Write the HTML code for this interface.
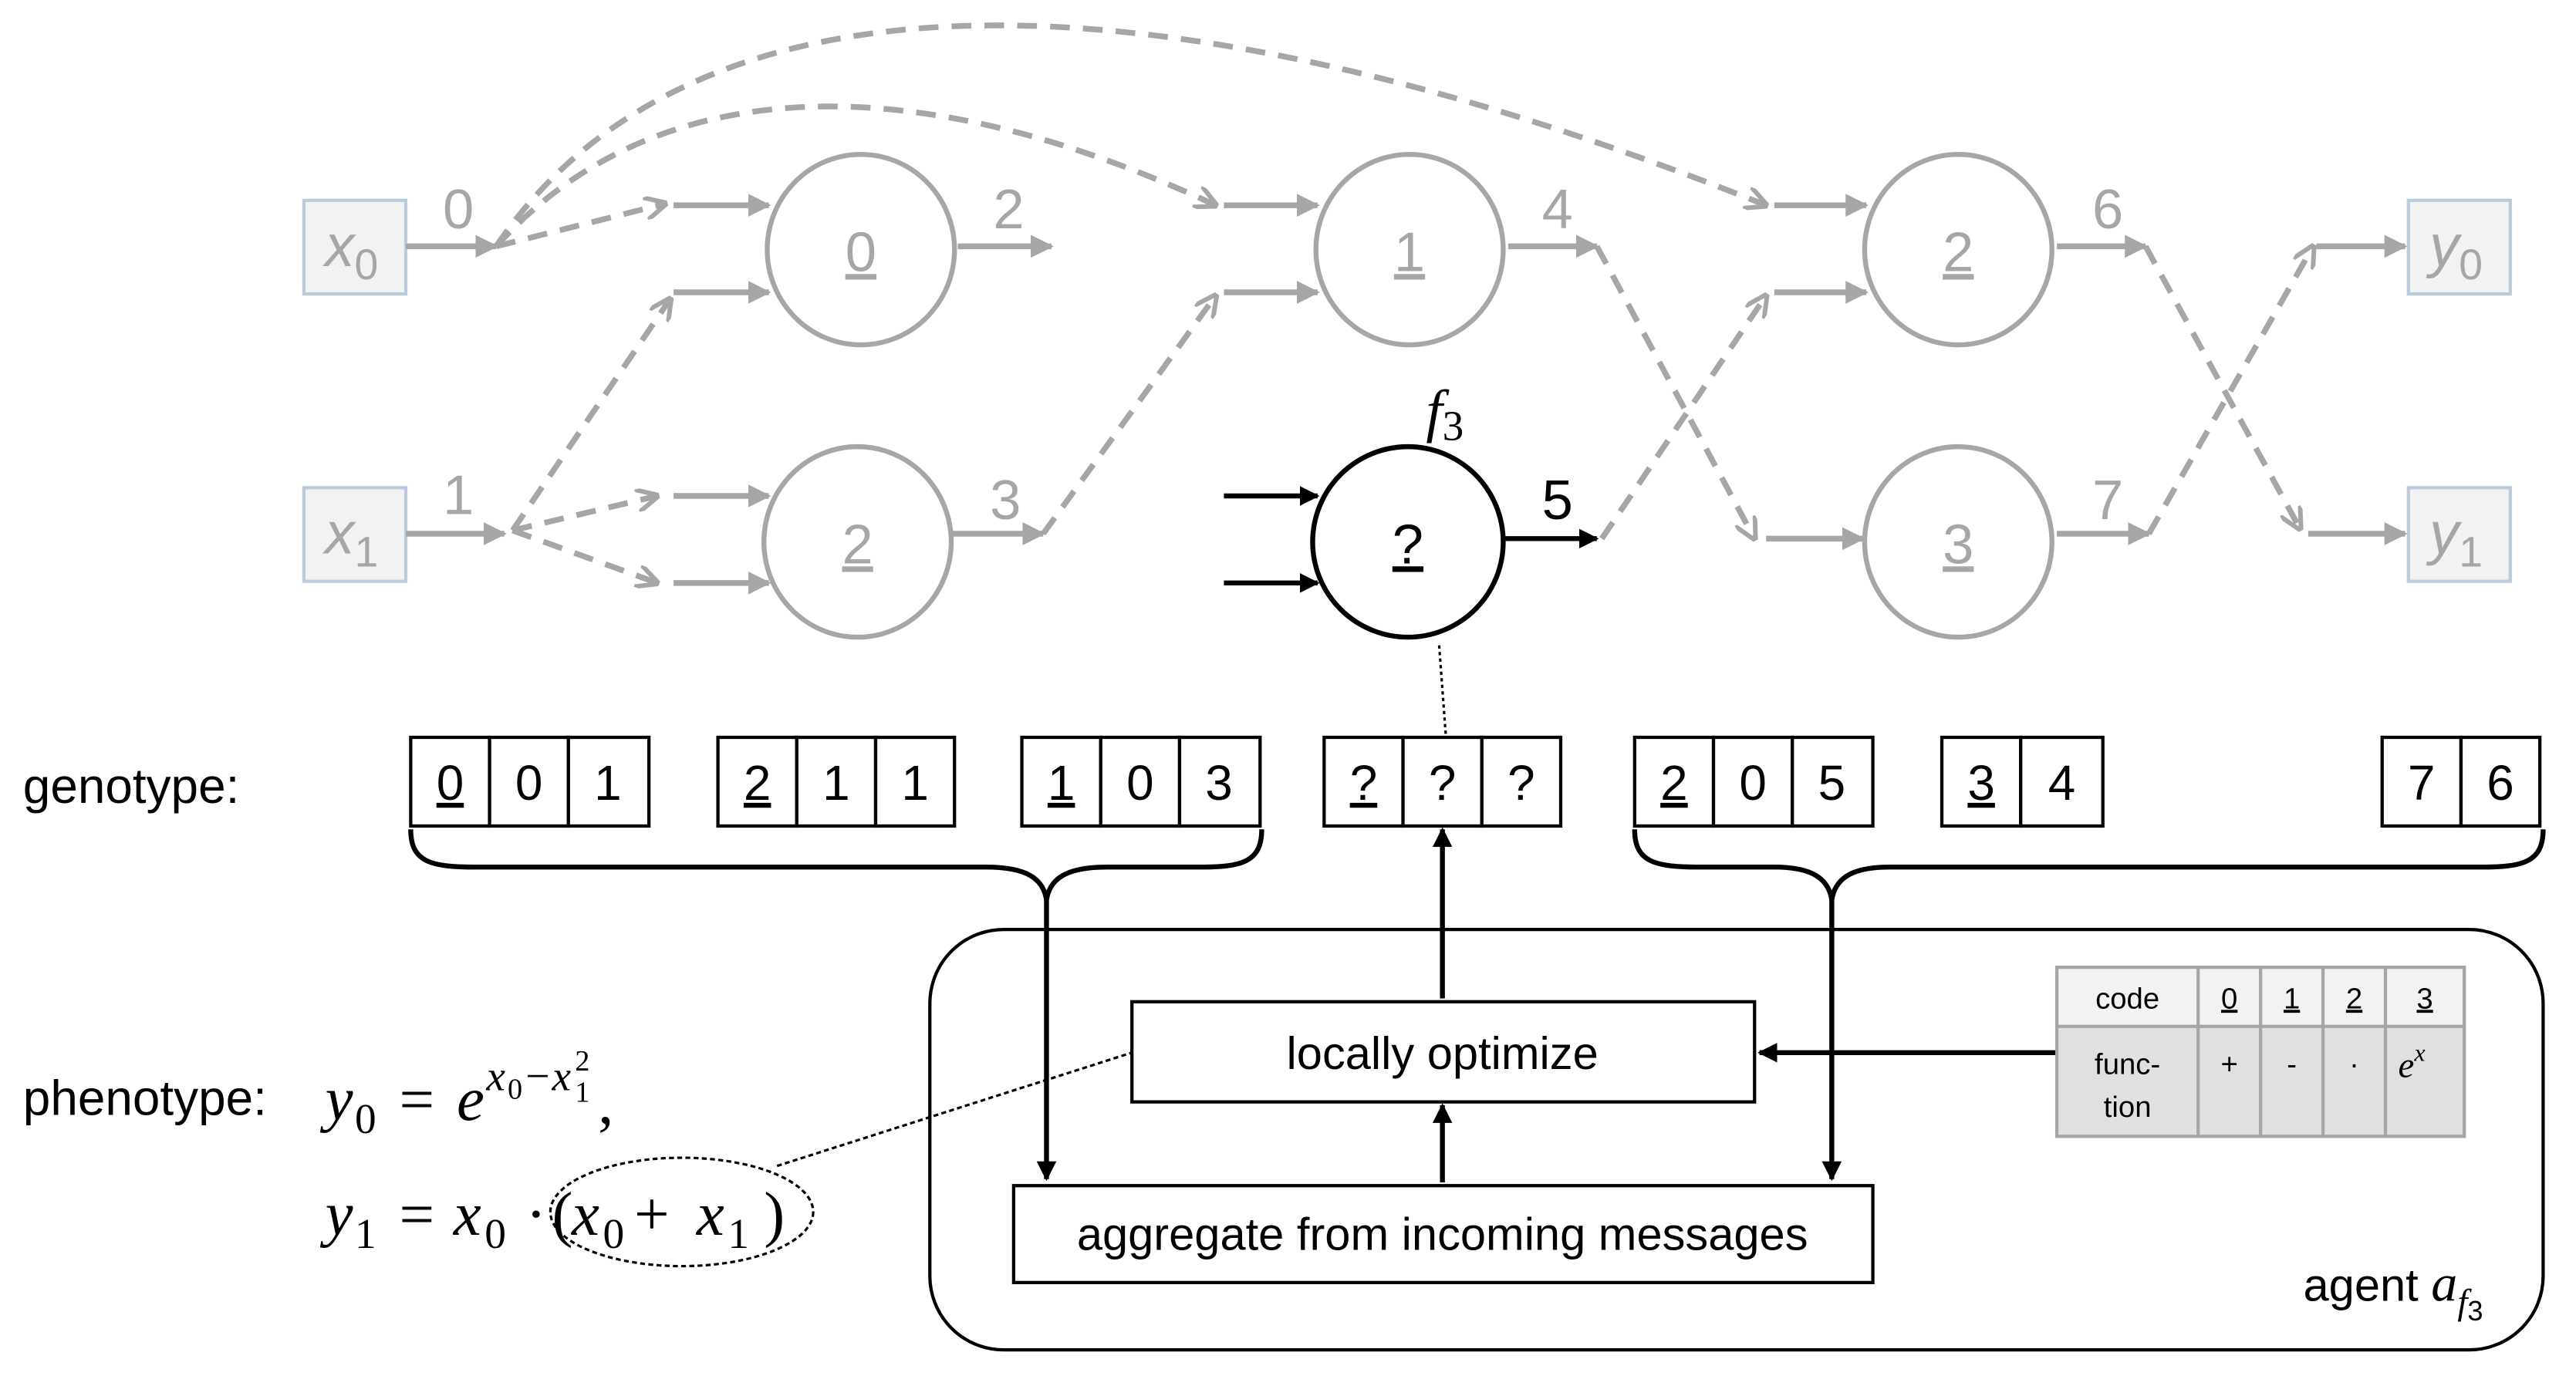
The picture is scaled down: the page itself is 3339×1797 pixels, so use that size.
<!DOCTYPE html>
<html><head><meta charset="utf-8"><style>
html,body{margin:0;padding:0;background:#fff;width:3339px;height:1797px;overflow:hidden}
svg{display:block}
text{font-family:"Liberation Sans",sans-serif}
.m{font-family:"Liberation Serif",serif;font-style:italic}
.n{font-family:"Liberation Serif",serif}
</style></head><body>
<svg width="3339" height="1797" viewBox="0 0 1568 844" preserveAspectRatio="none" xmlns="http://www.w3.org/2000/svg">
<defs>
<marker id="ag" viewBox="0 0 10 10" refX="9" refY="5" markerWidth="4" markerHeight="4" orient="auto"><path d="M0,0L10,5L0,10z" fill="#a6a6a6"/></marker>
<marker id="og" viewBox="0 0 10 10" refX="9" refY="5" markerWidth="4" markerHeight="4" orient="auto"><path d="M0,0L10,5L0,10" fill="none" stroke="#a6a6a6" stroke-width="2"/></marker>
<marker id="ab" viewBox="0 0 10 10" refX="9" refY="5" markerWidth="4" markerHeight="4" orient="auto"><path d="M0,0L10,5L0,10z" fill="#000"/></marker>
</defs>
<g fill="#f2f2f2" stroke="#bccbdc" stroke-width="2">
<rect x="185" y="122" width="62" height="57"/><rect x="185" y="297" width="62" height="57"/>
<rect x="1466" y="122" width="62" height="57"/><rect x="1466" y="297" width="62" height="57"/>
</g>
<g class="m" fill="#a6a6a6" font-size="36" text-anchor="middle">
<text x="214" y="162">x<tspan font-size="26" font-style="normal" dy="8">0</tspan></text>
<text x="214" y="337">x<tspan font-size="26" font-style="normal" dy="8">1</tspan></text>
<text x="1495" y="162">y<tspan font-size="26" font-style="normal" dy="8">0</tspan></text>
<text x="1495" y="337">y<tspan font-size="26" font-style="normal" dy="8">1</tspan></text>
</g>
<g fill="none" stroke="#a6a6a6" stroke-width="3">
<ellipse cx="524" cy="152" rx="57" ry="58"/><ellipse cx="522" cy="330" rx="57" ry="58"/>
<ellipse cx="858" cy="152" rx="57" ry="58"/><ellipse cx="1192" cy="152" rx="57" ry="58"/>
<ellipse cx="1192" cy="330" rx="57" ry="58"/>
</g>
<ellipse cx="857" cy="330" rx="58" ry="58" fill="none" stroke="#000" stroke-width="3"/>
<g font-size="34" fill="#a6a6a6" text-anchor="middle">
<text x="524" y="165" text-decoration="underline">0</text><text x="522" y="343" text-decoration="underline">2</text>
<text x="858" y="165" text-decoration="underline">1</text><text x="1192" y="165" text-decoration="underline">2</text>
<text x="1192" y="343" text-decoration="underline">3</text>
<text x="279" y="139">0</text><text x="614" y="139">2</text><text x="279" y="313">1</text><text x="612" y="316">3</text>
<text x="948" y="139">4</text><text x="1283" y="139">6</text><text x="1283" y="316">7</text>
</g>
<text x="857" y="343" font-size="34" text-anchor="middle" text-decoration="underline">?</text>
<text x="948" y="316" font-size="34" text-anchor="middle">5</text>
<text x="868" y="262" font-size="36" class="m">f<tspan font-size="26" font-style="normal" dy="6">3</tspan></text>
<g stroke="#a6a6a6" stroke-width="3.5" marker-end="url(#ag)" fill="none">
<path d="M247,150H302"/><path d="M247,325H307"/>
<path d="M410,125H468"/><path d="M410,178H468"/><path d="M410,302H468"/><path d="M410,355H468"/>
<path d="M583,150H640"/><path d="M580,325H635"/>
<path d="M745,125H802"/><path d="M745,178H802"/>
<path d="M918,150H972"/><path d="M1075,328H1134"/>
<path d="M1080,125H1136"/><path d="M1080,178H1136"/>
<path d="M1252,150H1306"/><path d="M1252,325H1308"/>
<path d="M1410,150H1464"/><path d="M1405,325H1464"/>
</g>
<g stroke="#a6a6a6" stroke-width="3.5" stroke-dasharray="12,8" marker-end="url(#og)" fill="none">
<path d="M302,150L405,124"/>
<path d="M302,150C400,41 560,41 740,125"/>
<path d="M302,150C420,-25 700,-25 1075,125"/>
<path d="M312,323L408,182"/><path d="M312,323L400,302"/><path d="M312,323L400,355"/>
<path d="M635,325L740,180"/>
<path d="M972,150L1068,328"/>
<path d="M975,328L1075,180"/>
<path d="M1306,150L1400,322"/>
<path d="M1308,325L1408,150"/>
</g>
<g stroke="#000" stroke-width="3" marker-end="url(#ab)" fill="none">
<path d="M745,302H802"/><path d="M745,355H802"/><path d="M915,328H972"/>
</g>
<line x1="876" y1="393" x2="880" y2="447" stroke="#000" stroke-width="1.5" stroke-dasharray="2,2"/>
<text x="14" y="489" font-size="30">genotype:</text>
<g fill="#fff" stroke="#000" stroke-width="2">
<rect x="250" y="449" width="48" height="54"/><rect x="298" y="449" width="48" height="54"/><rect x="346" y="449" width="49" height="54"/>
<rect x="437" y="449" width="48" height="54"/><rect x="485" y="449" width="48" height="54"/><rect x="533" y="449" width="48" height="54"/>
<rect x="622" y="449" width="48" height="54"/><rect x="670" y="449" width="48" height="54"/><rect x="718" y="449" width="49" height="54"/>
<rect x="806" y="449" width="48" height="54"/><rect x="854" y="449" width="48" height="54"/><rect x="902" y="449" width="48" height="54"/>
<rect x="995" y="449" width="48" height="54"/><rect x="1043" y="449" width="48" height="54"/><rect x="1091" y="449" width="49" height="54"/>
<rect x="1182" y="449" width="48" height="54"/><rect x="1230" y="449" width="50" height="54"/>
<rect x="1450" y="449" width="48" height="54"/><rect x="1498" y="449" width="48" height="54"/>
</g>
<g font-size="30" text-anchor="middle">
<text x="274" y="487" text-decoration="underline">0</text><text x="322" y="487">0</text><text x="370" y="487">1</text>
<text x="461" y="487" text-decoration="underline">2</text><text x="509" y="487">1</text><text x="557" y="487">1</text>
<text x="646" y="487" text-decoration="underline">1</text><text x="694" y="487">0</text><text x="742" y="487">3</text>
<text x="830" y="487" text-decoration="underline">?</text><text x="878" y="487">?</text><text x="926" y="487">?</text>
<text x="1019" y="487" text-decoration="underline">2</text><text x="1067" y="487">0</text><text x="1115" y="487">5</text>
<text x="1206" y="487" text-decoration="underline">3</text><text x="1255" y="487">4</text>
<text x="1474" y="487">7</text><text x="1522" y="487">6</text>
</g>
<g fill="none" stroke="#000" stroke-width="3">
<path d="M250,505C250,525 262,528 290,528H600C625,528 635,535 637,548C639,535 649,528 674,528H730C756,528 768,525 768,505"/>
<path d="M995,505C995,525 1007,528 1035,528H1080C1103,528 1113,535 1115,548C1117,535 1127,528 1150,528H1510C1536,528 1548,525 1548,505"/>
</g>
<rect x="566" y="566" width="982" height="256" rx="45" fill="none" stroke="#000" stroke-width="2"/>
<rect x="689" y="610" width="379" height="61" fill="#fff" stroke="#000" stroke-width="2"/>
<rect x="617" y="722" width="523" height="59" fill="#fff" stroke="#000" stroke-width="2"/>
<text x="878" y="651" font-size="28" text-anchor="middle">locally optimize</text>
<text x="878" y="761" font-size="28" text-anchor="middle">aggregate from incoming messages</text>
<g stroke="#000" stroke-width="3" marker-end="url(#ab)" fill="none">
<path d="M637,548V718"/><path d="M1115,548V718"/>
<path d="M878,608V505"/><path d="M878,720V673"/><path d="M1252,641H1071"/>
</g>
<rect x="1252" y="589" width="248" height="36" fill="#f2f2f2"/>
<rect x="1252" y="625" width="248" height="67" fill="#e0e0e0"/>
<g stroke="#a6a6a6" stroke-width="2" fill="none">
<rect x="1252" y="589" width="248" height="103"/><path d="M1252,625H1500M1338,589V692M1376,589V692M1414,589V692M1452,589V692"/>
</g>
<g font-size="18" text-anchor="middle">
<text x="1295" y="614">code</text>
<text x="1357" y="614" text-decoration="underline">0</text><text x="1395" y="614" text-decoration="underline">1</text>
<text x="1433" y="614" text-decoration="underline">2</text><text x="1476" y="614" text-decoration="underline">3</text>
<text x="1295" y="654">func-</text><text x="1295" y="680">tion</text>
<text x="1357" y="654">+</text><text x="1395" y="654">-</text><text x="1433" y="654">·</text>
<text x="1468" y="656" class="m" font-size="22">e<tspan font-size="15" dy="-10">x</tspan></text>
</g>
<text x="1402" y="792" font-size="28">agent <tspan class="m" font-size="32">a</tspan><tspan class="m" font-size="22" dy="8">f</tspan><tspan font-size="17" dy="4">3</tspan></text>
<text x="14" y="679" font-size="30">phenotype:</text>
<g font-size="38">
<text x="198" y="682" class="m">y</text><text x="216" y="690" class="n" font-size="26">0</text>
<text x="243" y="682" class="n">=</text>
<text x="278" y="682" class="m">e</text>
<text x="296" y="664" class="m" font-size="26">x</text><text x="309" y="669" class="n" font-size="18">0</text>
<text x="320" y="664" class="n" font-size="26">−</text>
<text x="336" y="664" class="m" font-size="26">x</text><text x="350" y="671" class="n" font-size="18">1</text><text x="350" y="652" class="n" font-size="18">2</text>
<text x="364" y="684" class="n">,</text>
<text x="198" y="752" class="m">y</text><text x="216" y="760" class="n" font-size="26">1</text>
<text x="243" y="752" class="n">=</text>
<text x="276" y="752" class="m">x</text><text x="295" y="760" class="n" font-size="26">0</text>
<text x="320" y="752" class="n">·</text>
<text x="336" y="752" class="n">(</text>
<text x="348" y="752" class="m">x</text><text x="367" y="760" class="n" font-size="26">0</text>
<text x="386" y="752" class="n">+</text>
<text x="424" y="752" class="m">x</text><text x="443" y="760" class="n" font-size="26">1</text>
<text x="465" y="752" class="n">)</text>
</g>
<ellipse cx="415" cy="738" rx="80" ry="33" fill="none" stroke="#000" stroke-width="1.5" stroke-dasharray="3,2"/>
<line x1="473" y1="710" x2="689" y2="641" stroke="#000" stroke-width="1.5" stroke-dasharray="3,2"/>
</svg>
</body></html>
